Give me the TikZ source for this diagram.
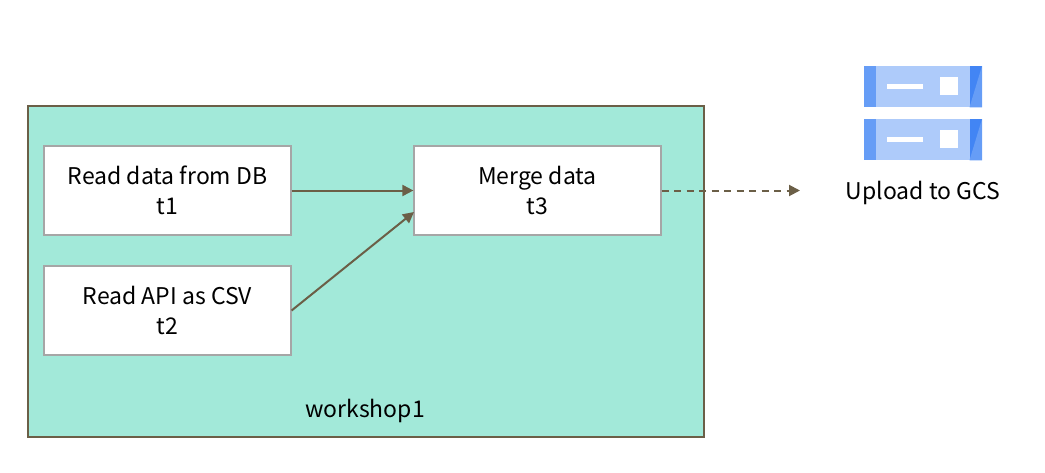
\documentclass[tikz,border=0pt]{standalone}
\usepackage{fontspec}
\setmainfont{Noto Sans CJK SC}
\usetikzlibrary{arrows.meta}
\definecolor{teal1}{HTML}{A2E9D9}
\definecolor{line1}{HTML}{6B5F47}
\definecolor{gray1}{HTML}{A6A6A6}
\definecolor{blue1}{HTML}{AECBFA}
\definecolor{blue2}{HTML}{669DF6}
\definecolor{blue3}{HTML}{4285F4}
\tikzset{
    taskbox/.style={draw=gray1, line width=1.2pt, fill=white, minimum width=247pt, minimum height=89pt, inner sep=0pt, align=center, font=\fontsize{23}{30}\selectfont},
    plain/.style={inner sep=0pt, font=\fontsize{23}{30}\selectfont},
    flow/.style={draw=line1, line width=2pt, -{Triangle[length=11pt,width=11pt]}}
}
\begin{document}
\begin{tikzpicture}[x=1pt, y=-1pt]
            \useasboundingbox (0,0) rectangle (1045,472);

            % Group
            \node[draw=line1, line width=1.2pt, fill=teal1, minimum width=676pt, minimum height=331pt, inner sep=0pt] (workshop) at (366,271.5) {};
            \node[plain] (workshopname) at (365,411) {workshop1};

            % Tasks
            \node[taskbox] (t1) at (167.5,190.5) {Read data from DB\\t1};
            \node[taskbox] (t2) at (167.5,310.5) {Read API as CSV\\t2};
            \node[taskbox] (t3) at (537.5,190.5) {Merge data\\t3};

            % Free ends
            \coordinate (t3in) at (414,212);
            \coordinate (gcsin) at (800,190.5);

            % Edges
            \draw[flow] (t1) -- (t3);
            \draw[flow] (t2.east) -- (t3in);
            \draw[flow, dash pattern=on 7pt off 5.5pt] (t3) -- (gcsin);

            % Bucket icon
            \foreach \dy in {0,53} {
                \fill[blue1] (864,66+\dy) rectangle (982,107.3+\dy);
                \fill[blue2] (864,66+\dy) rectangle (875.7,107.3+\dy);
                \fill[blue3] (969.5,66+\dy) rectangle (982,107.3+\dy);
                \fill[blue2] (969.5,107.3+\dy) -- (982,66+\dy) -- (982,107.3+\dy) -- cycle;
                \fill[white] (887,83.7+\dy) rectangle (923,89.3+\dy);
                \fill[white] (940,77+\dy) rectangle (958,95.3+\dy);
            }
            \node[plain] (gcs) at (923,193) {Upload to GCS};
\end{tikzpicture}
\end{document}
